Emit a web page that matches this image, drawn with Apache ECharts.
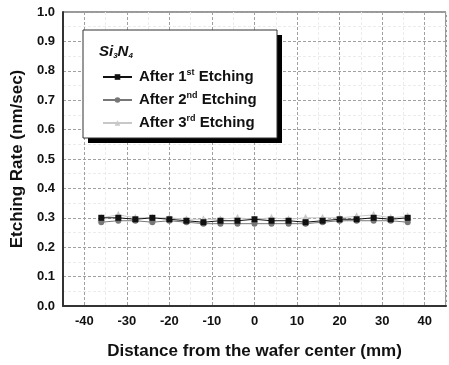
<!DOCTYPE html>
<html>
<head>
<meta charset="utf-8">
<script src="https://cdn.jsdelivr.net/npm/echarts@6/dist/echarts.min.js"></script>
<style>
  html, body { margin: 0; padding: 0; background: #fff; }
  #chart { width: 449px; height: 365px; }
</style>
</head>
<body>
<div id="chart"></div>
<script>
const positions = [-36, -32, -28, -24, -20, -16, -12, -8, -4, 0, 4, 8, 12, 16, 20, 24, 28, 32, 36]
const etch1 = [0.30, 0.30, 0.295, 0.30, 0.295, 0.29, 0.285, 0.29, 0.29, 0.295, 0.29, 0.29, 0.285, 0.29, 0.295, 0.295, 0.30, 0.295, 0.30]
const etch2 = [0.285, 0.29, 0.29, 0.285, 0.29, 0.285, 0.28, 0.28, 0.28, 0.28, 0.28, 0.28, 0.28, 0.285, 0.29, 0.29, 0.29, 0.29, 0.285]
const etch3 = [0.30, 0.31, 0.30, 0.30, 0.30, 0.295, 0.295, 0.295, 0.30, 0.295, 0.30, 0.295, 0.30, 0.30, 0.30, 0.305, 0.31, 0.30, 0.305]
const seriesNames = ['After 1st Etching', 'After 2nd Etching', 'After 3rd Etching']
const seriesColors = ['#111', '#777', '#c8c8c8']
const seriesSymbols = ['rect', 'circle', 'triangle']

const chart = echarts.init(document.getElementById('chart'))
const font = 'Liberation Sans, Arial, sans-serif'

function pairs(vals) {
  return positions.map((x, i) => [x, vals[i]])
}

const supText = {
  '1st': 'After 1{s|st} Etching',
  '2nd': 'After 2{s|nd} Etching',
  '3rd': 'After 3{s|rd} Etching'
}

chart.setOption({
  animation: false,
  textStyle: { fontFamily: font },
  grid: {
    left: 63, right: 2, top: 12, bottom: 59,
    show: true, borderColor: '#333', borderWidth: 1
  },
  graphic: [
    // legend box with hard black drop shadow
    { type: 'rect', z: 90, shape: { x: 88, y: 35, width: 194, height: 108 }, style: { fill: '#000' } },
    { type: 'rect', z: 91, shape: { x: 83, y: 30, width: 194, height: 108 }, style: { fill: '#fff', stroke: '#333', lineWidth: 1 } },
    {
      type: 'text', left: 99, top: 44, z: 100,
      style: {
        rich: {
          b: { fontSize: 15, fontWeight: 'bold', fontStyle: 'italic', fontFamily: font, fill: '#111' },
          s: { fontSize: 8, fontWeight: 'bold', fontStyle: 'italic', fontFamily: font, fill: '#111', verticalAlign: 'bottom', padding: [9, 0, 0, 0] }
        },
        text: '{b|Si}{s|3}{b|N}{s|4}'
      }
    }
  ],
  legend: {
    orient: 'vertical',
    left: 102, top: 68,
    padding: [0, 0, 0, 0],
    itemGap: 5,
    itemWidth: 29, itemHeight: 7,
    z: 100,
    formatter: name => supText[name.split(' ')[1]],
    textStyle: {
      fontSize: 15, fontWeight: 'bold', color: '#111', fontFamily: font,
      lineHeight: 18, padding: [0, 0, 0, 2],
      rich: {
        s: { fontSize: 9, fontWeight: 'bold', color: '#111', fontFamily: font, verticalAlign: 'top', lineHeight: 10, padding: [0, 0, 6, 0] }
      }
    },
    data: seriesNames
  },
  xAxis: {
    type: 'value', min: -45, max: 45, interval: 5,
    name: 'Distance from the wafer center (mm)',
    nameLocation: 'middle', nameGap: 37,
    nameTextStyle: { fontSize: 17, fontWeight: 'bold', color: '#111', fontFamily: font },
    axisLine: { show: true, onZero: false, lineStyle: { color: '#333', width: 2 } },
    axisTick: { show: false },
    axisLabel: {
      fontSize: 13, fontWeight: 'bold', color: '#111', margin: 9,
      formatter: v => (Math.round(v) % 10 === 0 && Math.abs(v) < 45 ? String(v) : '')
    },
    splitLine: { show: true, lineStyle: { color: ['#ececec', '#a0a0a0'], type: [3, 2], width: 1 } }
  },
  yAxis: {
    type: 'value', min: 0, max: 1, interval: 0.1,
    name: 'Etching Rate (nm/sec)',
    nameLocation: 'middle', nameGap: 31,
    nameTextStyle: { fontSize: 17, fontWeight: 'bold', color: '#111', fontFamily: font },
    axisLine: { show: true, onZero: false, lineStyle: { color: '#333', width: 2 } },
    axisTick: { show: false },
    axisLabel: { fontSize: 13, fontWeight: 'bold', color: '#111', margin: 8, formatter: v => v.toFixed(1) },
    splitLine: { show: true, lineStyle: { color: '#a0a0a0', type: [3, 2], width: 1 } },
    minorTick: { show: false, splitNumber: 2 },
    minorSplitLine: { show: true, lineStyle: { color: '#ececec', type: [3, 2] } }
  },
  series: [etch1, etch2, etch3].map((vals, i) => ({
    name: seriesNames[i],
    type: 'line',
    data: pairs(vals),
    symbol: seriesSymbols[i],
    symbolSize: i === 2 ? 8 : 6,
    z: 5 - i,
    itemStyle: { color: seriesColors[i] },
    lineStyle: { color: seriesColors[i], width: 1 }
  }))
})
</script>
</body>
</html>
